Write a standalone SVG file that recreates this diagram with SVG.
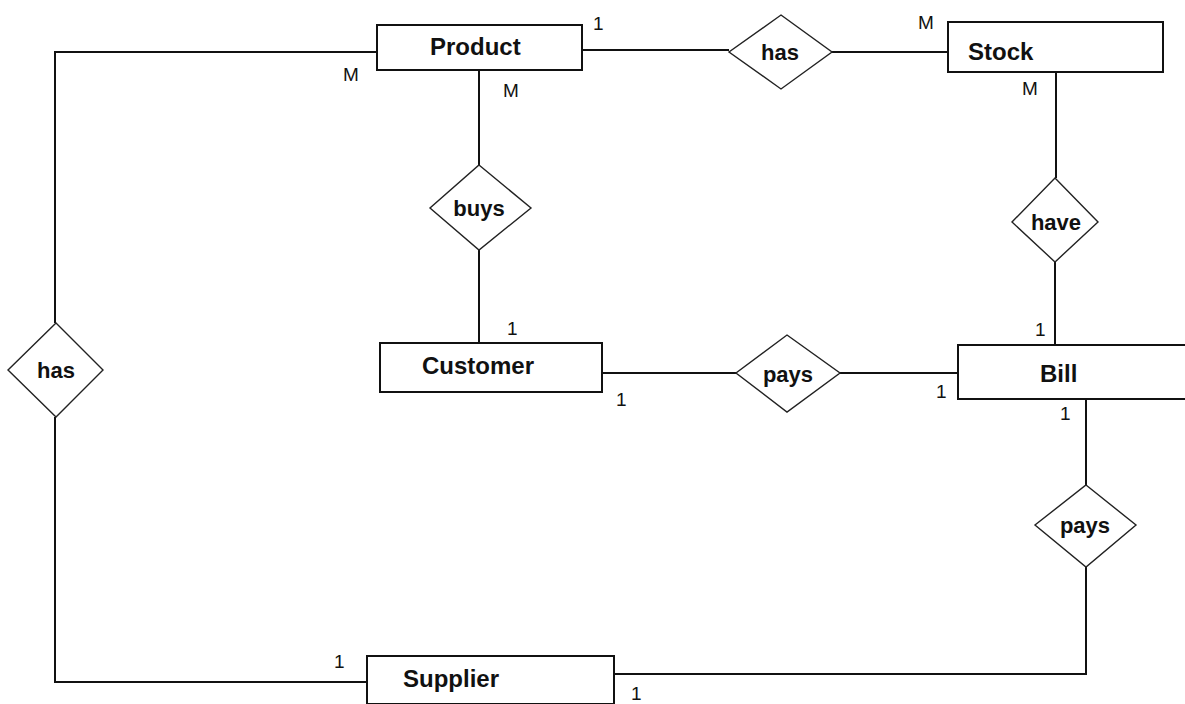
<svg xmlns="http://www.w3.org/2000/svg" width="1185" height="704" viewBox="0 0 1185 704">
<style>
.ent{fill:#fff;stroke:#111;stroke-width:2}
.rel{fill:#fff;stroke:#222;stroke-width:1.4}
.ln{fill:none;stroke:#111;stroke-width:2}
.t{font-family:"Liberation Sans",Arial,sans-serif;font-weight:bold;font-size:24px;fill:#111}
.rt{font-family:"Liberation Sans",Arial,sans-serif;font-weight:bold;font-size:22px;fill:#111;text-anchor:middle}
.c{font-family:"Liberation Sans",Arial,sans-serif;font-size:19px;fill:#111}
</style>
<rect width="1185" height="704" fill="#fff"/>
<g id="connectors">
<polyline class="ln" points="377,52 55,52 55,323"/>
<polyline class="ln" points="55,417 55,682 367,682"/>
<line class="ln" x1="582" y1="50" x2="729" y2="50"/>
<line class="ln" x1="832" y1="52" x2="948" y2="52"/>
<line class="ln" x1="479" y1="70" x2="479" y2="165"/>
<line class="ln" x1="479" y1="250" x2="479" y2="343"/>
<line class="ln" x1="1056" y1="72" x2="1056" y2="178"/>
<line class="ln" x1="1055" y1="262" x2="1055" y2="345"/>
<line class="ln" x1="600" y1="373" x2="736" y2="373"/>
<line class="ln" x1="840" y1="373" x2="958" y2="373"/>
<line class="ln" x1="1086" y1="399" x2="1086" y2="485"/>
<polyline class="ln" points="1086,567 1086,674 614,674"/>
</g>
<g id="product"><rect class="ent" x="377" y="25" width="205" height="45"/><text class="t" x="430" y="55">Product</text></g>
<g id="stock"><rect class="ent" x="948" y="22" width="215" height="50"/><text class="t" x="968" y="60">Stock</text></g>
<g id="customer"><rect class="ent" x="380" y="343" width="222" height="49"/><text class="t" x="422" y="374">Customer</text></g>
<g id="bill"><rect class="ent" x="958" y="345" width="240" height="54"/><text class="t" x="1040" y="382">Bill</text></g>
<g id="supplier"><rect class="ent" x="367" y="656" width="247" height="48"/><text class="t" x="403" y="687">Supplier</text></g>
<g id="has-top"><polygon class="rel" points="781,15 832,52 781,89 729,52"/><text class="rt" x="780" y="60">has</text></g>
<g id="buys"><polygon class="rel" points="479,165 531,208 479,250 430,208"/><text class="rt" x="479" y="216">buys</text></g>
<g id="have"><polygon class="rel" points="1055,178 1098,222 1055,262 1012,222"/><text class="rt" x="1056" y="230">have</text></g>
<g id="has-left"><polygon class="rel" points="56,323 103,370 56,417 8,370"/><text class="rt" x="56" y="378">has</text></g>
<g id="pays-mid"><polygon class="rel" points="787,335 840,373 787,412 736,373"/><text class="rt" x="788" y="382">pays</text></g>
<g id="pays-right"><polygon class="rel" points="1086,485 1136,525 1086,567 1035,525"/><text class="rt" x="1085" y="533">pays</text></g>
<g id="cardinalities">
<text class="c" x="593" y="30">1</text>
<text class="c" x="343" y="81">M</text>
<text class="c" x="503" y="97">M</text>
<text class="c" x="918" y="29">M</text>
<text class="c" x="1022" y="95">M</text>
<text class="c" x="1035" y="336">1</text>
<text class="c" x="936" y="398">1</text>
<text class="c" x="1060" y="420">1</text>
<text class="c" x="507" y="335">1</text>
<text class="c" x="616" y="406">1</text>
<text class="c" x="334" y="668">1</text>
<text class="c" x="631" y="700">1</text>
</g>
</svg>
